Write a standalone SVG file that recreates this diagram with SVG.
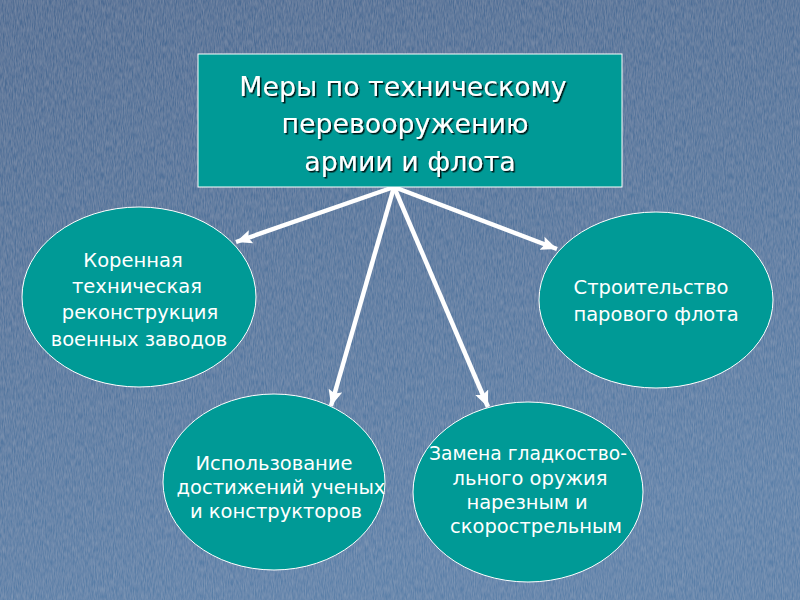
<svg xmlns="http://www.w3.org/2000/svg" width="800" height="600" viewBox="0 0 800 600">
  <defs>
    <linearGradient id="bg" x1="0" y1="0" x2="0.3" y2="1">
      <stop offset="0" stop-color="#4a6991"/>
      <stop offset="1" stop-color="#5a7fa8"/>
    </linearGradient>
    <filter id="tex" x="0" y="0" width="100%" height="100%">
      <feTurbulence type="fractalNoise" baseFrequency="0.9 0.15" numOctaves="2" seed="3" result="n"/>
      <feColorMatrix type="matrix" values="0 0 0 0 1  0 0 0 0 1  0 0 0 0 1  0 0 0 0.18 -0.04" in="n" result="c"/>
      <feComposite in="c" in2="SourceGraphic" operator="over"/>
    </filter>
    <filter id="shadow" x="-10%" y="-20%" width="120%" height="140%">
      <feDropShadow dx="1.5" dy="1.5" stdDeviation="0.4" flood-color="#000" flood-opacity="0.85"/>
    </filter>
    <marker id="arr" markerUnits="userSpaceOnUse" markerWidth="20" markerHeight="16" refX="16" refY="7" orient="auto">
      <path d="M0,0 L16,7 L0,14 L3,7 Z" fill="#ffffff"/>
    </marker>
  </defs>
  <style>
    .node { fill: #009a96; stroke: #ffffff; stroke-width: 1; }
    .lbl { font-family: "DejaVu Sans", "Liberation Sans", sans-serif; fill: #ffffff; text-anchor: middle; font-size: 19.5px; }
    .title { font-family: "DejaVu Sans", "Liberation Sans", sans-serif; fill: #ffffff; text-anchor: middle; font-size: 26.8px; }
    .conn { stroke: #ffffff; stroke-width: 4.5; fill: none; marker-end: url(#arr); }
  </style>
  <rect x="0" y="0" width="800" height="600" fill="url(#bg)" filter="url(#tex)"/>

  <g id="connectors">
    <line class="conn" x1="394" y1="187" x2="236" y2="242"/>
    <line class="conn" x1="394" y1="187" x2="331" y2="406"/>
    <line class="conn" x1="394" y1="187" x2="488" y2="407"/>
    <line class="conn" x1="394" y1="187" x2="557" y2="249"/>
  </g>

  <g id="main">
    <rect class="node" x="198" y="54" width="424" height="133"/>
    <g filter="url(#shadow)">
      <text class="title" x="403" y="96">Меры по техническому</text>
      <text class="title" x="405" y="133">перевооружению</text>
      <text class="title" x="410" y="171">армии и флота</text>
    </g>
  </g>

  <g id="n1">
    <ellipse class="node" cx="139" cy="297" rx="117" ry="90"/>
    <text class="lbl" x="133" y="267">Коренная</text>
    <text class="lbl" x="137" y="293">техническая</text>
    <text class="lbl" x="140" y="319">реконструкция</text>
    <text class="lbl" x="139" y="346">военных заводов</text>
  </g>

  <g id="n2">
    <ellipse class="node" cx="274" cy="482" rx="111" ry="88"/>
    <text class="lbl" x="274" y="470">Использование</text>
    <text class="lbl" x="281" y="494">достижений ученых</text>
    <text class="lbl" x="276" y="518">и конструкторов</text>
  </g>

  <g id="n3">
    <ellipse class="node" cx="528" cy="492" rx="115" ry="90"/>
    <text class="lbl" x="528" y="460" style="font-size:18.7px">Замена гладкоство-</text>
    <text class="lbl" x="530" y="485">льного оружия</text>
    <text class="lbl" x="527" y="509">нарезным и</text>
    <text class="lbl" x="536" y="533">скорострельным</text>
  </g>

  <g id="n4">
    <ellipse class="node" cx="656" cy="300" rx="117" ry="88"/>
    <text class="lbl" x="651" y="294">Строительство</text>
    <text class="lbl" x="656" y="321">парового флота</text>
  </g>
</svg>
